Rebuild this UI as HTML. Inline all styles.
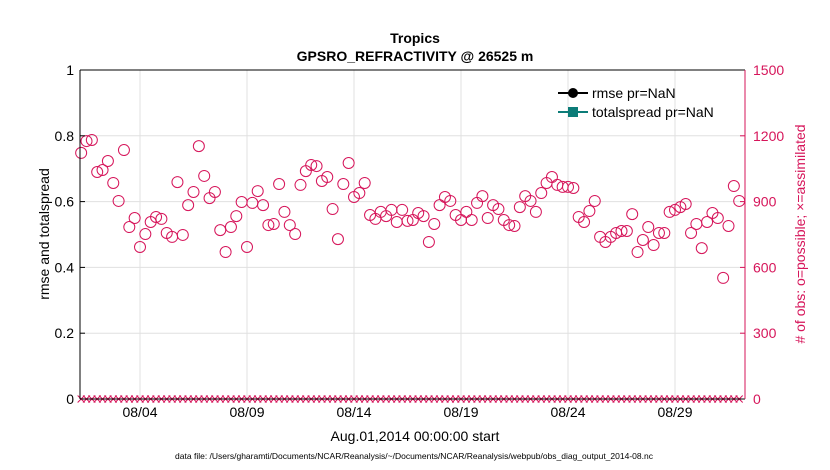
<!DOCTYPE html>
<html><head><meta charset="utf-8"><style>
body{margin:0;background:#fff;}
svg{display:block;font-family:"Liberation Sans",sans-serif;}
</style></head><body>
<svg id="chart" width="830" height="470">
<g id="grid"></g>
<g id="marks"></g>
<g id="axes"></g>
<text x="415" y="43" text-anchor="middle" font-size="14" font-weight="bold">Tropics</text>
<text x="415" y="61" text-anchor="middle" font-size="14" font-weight="bold">GPSRO_REFRACTIVITY @ 26525 m</text>
<text transform="translate(49,234) rotate(-90)" text-anchor="middle" font-size="14">rmse and totalspread</text>
<text transform="translate(805,234) rotate(-90)" text-anchor="middle" font-size="14" fill="#d6155a"># of obs: o=possible; ×=assimilated</text>
<text x="415" y="441" text-anchor="middle" font-size="14">Aug.01,2014 00:00:00 start</text>
<text x="414" y="459" text-anchor="middle" font-size="8.5">data file: /Users/gharamti/Documents/NCAR/Reanalysis/~/Documents/NCAR/Reanalysis/webpub/obs_diag_output_2014-08.nc</text>
<g>
<line x1="558" y1="93" x2="588" y2="93" stroke="#000" stroke-width="2"/><circle cx="573" cy="93" r="5" fill="#000"/>
<text x="592" y="98" font-size="14">rmse pr=NaN</text>
<line x1="558" y1="112" x2="588" y2="112" stroke="#0c7c78" stroke-width="2"/><rect x="568" y="107" width="10" height="10" fill="#0c7c78"/>
<text x="592" y="117" font-size="14">totalspread pr=NaN</text>
</g>
</svg>
<script>
const leftTicks=[0,0.2,0.4,0.6,0.8,1];
const leftTickLabels=["0","0.2","0.4","0.6","0.8","1"];
const rightTicks=[0,300,600,900,1200,1500];
const rightTickLabels=["0","300","600","900","1200","1500"];
const dateTicks=[4,9,14,19,24,29];
const dateTickLabels=["08/04","08/09","08/14","08/19","08/24","08/29"];
const obsPossible=[1122,1176,1181,1035,1044,1085,985,903,1135,784,825,693,752,807,830,821,757,739,989,748,884,944,1153,1017,916,944,770,670,784,834,898,693,894,948,884,793,798,980,853,793,752,976,1039,1067,1062,994,1012,866,729,980,1076,921,939,985,839,821,853,834,862,807,862,812,816,848,834,716,798,884,921,903,839,816,853,816,894,925,825,884,866,816,793,789,875,925,903,853,939,985,1012,976,967,967,962,830,807,857,903,739,716,739,757,766,766,843,670,725,784,702,757,757,853,862,875,889,757,798,688,807,848,825,552,789,971,903];
const obsAssimilated=obsPossible.map(()=>0);
const NS="http://www.w3.org/2000/svg";
const L=80,R=745,T=70,B=399;
const yL=v=>B-(v-0)/(1-0)*(B-T);
const yR=v=>B-v/1500*(B-T);
const xT=t=>75.8+t*21.4;
function mk(tag,attrs,parent){const e=document.createElementNS(NS,tag);for(const k in attrs)e.setAttribute(k,attrs[k]);parent.appendChild(e);return e;}
const grid=document.getElementById('grid'),marks=document.getElementById('marks'),axes=document.getElementById('axes');
leftTicks.forEach((v,i)=>{
 const g=mk('line',{x1:L,x2:R,y1:yL(v),y2:yL(v),stroke:'#e0e0e0','stroke-width':1},grid);
 
 
 const tk=mk('line',{x1:L,x2:L+5,y1:yL(v),y2:yL(v),stroke:'#000'},axes);
 
 
 const t=mk('text',{x:L-6,y:yL(v)+5,'text-anchor':'end','font-size':14},axes);t.textContent=leftTickLabels[i];
 
 
});
rightTicks.forEach((v,i)=>{
 const tk=mk('line',{x1:R-5,x2:R,y1:yR(v),y2:yR(v),stroke:'#d6155a'},axes);
 
 
 const t=mk('text',{x:R+8,y:yR(v)+5,'font-size':14,fill:'#d6155a'},axes);t.textContent=rightTickLabels[i];
 
 
});
dateTicks.forEach((d,i)=>{
 const x=xT(d-1);
 const g=mk('line',{x1:x,x2:x,y1:T,y2:B,stroke:'#e0e0e0'},grid);
 
 
 const t=mk('text',{x:x,y:B+18,'text-anchor':'middle','font-size':14},axes);t.textContent=dateTickLabels[i];
 
 
});
obsPossible.forEach((v,i)=>{
 const x=xT(0.25+i*0.25);
 const c=mk('circle',{cx:x,cy:yR(v),r:5.5,fill:'none',stroke:'#d6155a','stroke-width':1},marks);
 
 
 const y0=yR(obsAssimilated[i]);
 const p=mk('path',{d:`M${x-3.5},${y0-3.5}L${x+3.5},${y0+3.5}M${x-3.5},${y0+3.5}L${x+3.5},${y0-3.5}`,stroke:'#d6155a','stroke-width':1},marks);
 
 
});
const frame=[['left-axis',L,T,L,B,'#000'],['top-axis',L,T,R,T,'#000'],['bottom-axis',L,B,R,B,'#000'],['right-axis',R,T,R,B,'#d6155a']];
frame.forEach(f=>{const l=mk('line',{x1:f[1],y1:f[2],x2:f[3],y2:f[4],stroke:f[5],'stroke-width':1},axes);
 
 });
</script>
</body></html>
